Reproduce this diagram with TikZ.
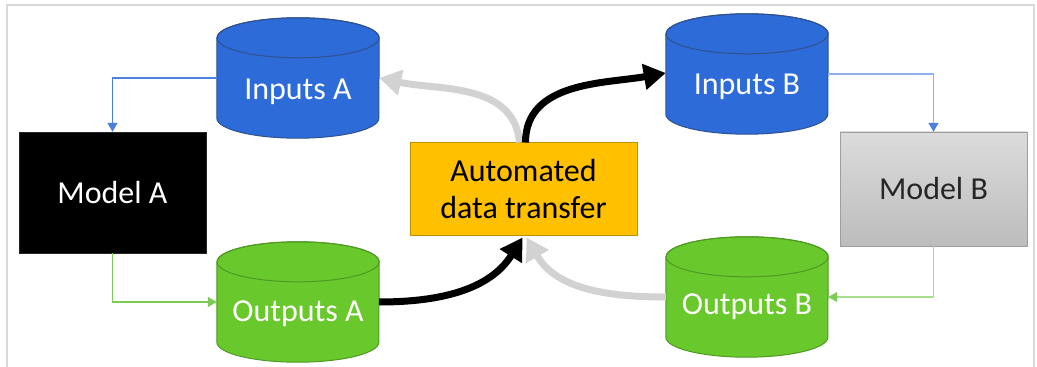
\documentclass[tikz,border=0pt]{standalone}
\usepackage{fontspec}
\setmainfont{Carlito}
\usetikzlibrary{arrows.meta,calc}
\definecolor{cblue}{HTML}{2D6BD9}
\definecolor{cblueb}{HTML}{2F528F}
\definecolor{cgreen}{HTML}{68C82C}
\definecolor{cgreenb}{HTML}{4E9A22}
\definecolor{cyel}{HTML}{FFC000}
\definecolor{cyelb}{HTML}{BF9000}
\definecolor{lblue}{HTML}{4A80E0}
\definecolor{lblue2}{HTML}{8FB0EC}
\definecolor{lgreen}{HTML}{7CCB58}
\definecolor{lgreen2}{HTML}{A8DC8E}
\definecolor{garrow}{HTML}{D2D2D2}
\definecolor{framec}{HTML}{D9D9D9}
\newcommand\drawcyl[3]{%
  \filldraw[fill=#2,draw=#3,line width=1pt]
    (#1.north west) -- (#1.south west)
    arc[start angle=180,end angle=360,x radius=81pt,y radius=20pt]
    -- (#1.north east)
    arc[start angle=0,end angle=180,x radius=81pt,y radius=20pt] -- cycle;
  \draw[draw=#3,line width=1pt] (#1.north) ellipse[x radius=81pt,y radius=20pt];
}
\begin{document}
\begin{tikzpicture}[x=1pt,y=1pt,
  cylbody/.style={minimum width=162pt,minimum height=80pt,inner sep=0pt,draw=none},
  cyltext/.style={anchor=base,text=white,font=\fontsize{32}{37}\selectfont},
  modelbox/.style={minimum width=187pt,inner sep=0pt,font=\fontsize{32}{37}\selectfont},
  thin/.style={line width=1.3pt,-{Triangle[width=10pt,length=9pt]}},
  thick/.style={line width=7pt,-{Triangle[width=25pt,length=22pt]}}
]
\useasboundingbox (0,0) rectangle (1037,367);
\draw[framec,line width=2pt] (7,0) -- (7,362) -- (1034,362) -- (1034,0);

% cylinders (body between ellipse centres)
\node[cylbody] (inA)  at (298,289) {};
\node[cylbody] (outA) at (298,65) {};
\node[cylbody] (inB)  at (747,293) {};
\node[cylbody] (outB) at (747,70) {};
\drawcyl{inA}{cblue}{cblueb}
\drawcyl{outA}{cgreen}{cgreenb}
\drawcyl{inB}{cblue}{cblueb}
\drawcyl{outB}{cgreen}{cgreenb}
\node[cyltext] (inAt)  at (298,267) {Inputs A};
\node[cyltext] (outAt) at (298,45)  {Outputs A};
\node[cyltext] (inBt)  at (747,272) {Inputs B};
\node[cyltext] (outBt) at (747,52)  {Outputs B};

% models
\node[modelbox,minimum height=121pt,fill=black,draw=black!85,text=white] (modelA) at (112.5,174.5) {Model A};
\node[modelbox,minimum height=114pt,top color=black!14,bottom color=black!26,draw=black!38,text=black!85] (modelB) at (933.5,178) {Model B};

% automated box
\node[minimum width=227pt,minimum height=93pt,inner sep=0pt,fill=cyel,draw=cyelb,line width=1pt,
      align=center,font=\fontsize{32}{37}\selectfont] (auto) at (523.5,177.5) {Automated\\data transfer};

% thin connectors
\draw[thin,lblue] (inA.west) -| (modelA.north);
\draw[thin,lgreen] (modelA.south) |- (outA.west);
\draw[thin,lblue2,{}-{Triangle[width=10pt,length=9pt,fill=lblue,color=lblue]}] (inB.east) -| (modelB.north);
\draw[thin,lgreen2,{}-{Triangle[width=10pt,length=9pt,fill=lgreen,color=lgreen]}] (modelB.south) |- (outB.east);

% thick arrows
\draw[thick,garrow] ([xshift=-4pt]auto.north) to[out=95,in=-12] (inA.east);
\draw[thick,garrow] (outB.west) to[out=180,in=-60] ([xshift=3pt,yshift=-1pt]auto.south);
\draw[thick,black] ([xshift=2pt]auto.north) to[out=90,in=190] ([yshift=1pt]inB.west);
\draw[thick,black] (outA.east) to[out=0,in=-122] ([xshift=-1pt,yshift=-1pt]auto.south);
\end{tikzpicture}
\end{document}
